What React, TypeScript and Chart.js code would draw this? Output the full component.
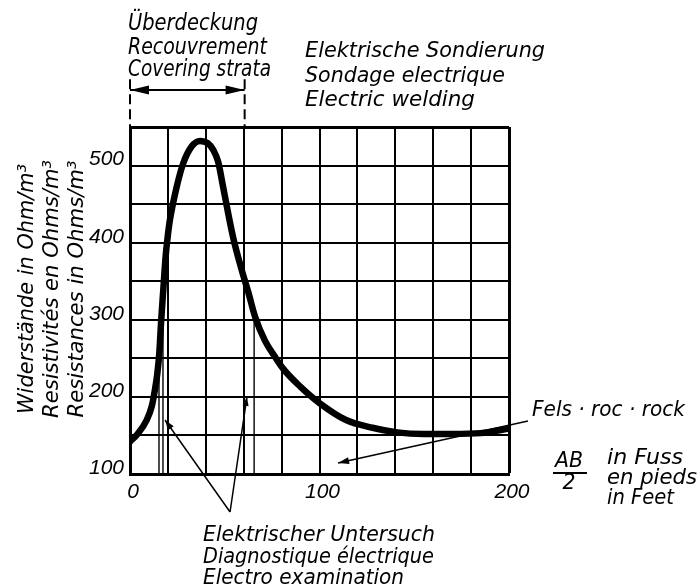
import React, { useEffect, useRef } from 'react';
import { Chart, registerables } from 'chart.js';

Chart.register(...registerables);

// AB/2 distance (feet) and apparent resistance (Ohm/m3)
const distance = [0, 4, 8.8, 11.5, 13.2, 14.4, 15.5, 16.4, 17.6, 18.8, 20, 21.1, 24.6, 28.1, 32.6, 36.9, 41, 44, 46.5, 49, 54.4, 59, 62.4, 66, 71.2, 76.5, 81, 90, 100, 114, 128, 141, 155, 170, 185, 200];
const resistance = [142, 152, 170, 188, 210, 230, 258, 297, 340, 382, 410, 430, 472, 503, 525, 532, 529, 520, 505, 474, 407, 364, 336, 304, 273, 252, 236, 213, 192, 170, 160, 154, 152, 152, 153, 159];

const xTickLabels = [0, 100, 200];
const yTickLabels = [100, 200, 300, 400, 500];

// thin measurement marks (x position, top value)
const markerX = [15.3, 17.4, 65.5];
const markerTop = [252, 335, 306];

// covering strata extent (feet)
const coverRange = [0, 60.5];

const yTitleLines = ['Widerstände in Ohm/m³', 'Resistivités en Ohms/m³', 'Resistances in Ohms/m³'];
const coverLines = ['Überdeckung', 'Recouvrement', 'Covering strata'];
const soundingLines = ['Elektrische Sondierung', 'Sondage electrique', 'Electric welding'];
const examLines = ['Elektrischer Untersuch', 'Diagnostique électrique', 'Electro examination'];
const rockLabel = 'Fels · roc · rock';
const unitLines = ['in Fuss', 'en pieds', 'in Feet'];

const FONT = '"DejaVu Sans", sans-serif';
const TICK_FONT = '"Liberation Sans", Arimo, sans-serif';

function fitText(ctx: CanvasRenderingContext2D, text: string, x: number, y: number, width: number, size: number, align: CanvasTextAlign = 'left', rotate = 0) {
  ctx.save();
  ctx.font = `italic ${size}px ${FONT}`;
  const m = ctx.measureText(text).width || 1;
  ctx.translate(x, y);
  if (rotate) ctx.rotate(rotate);
  ctx.scale(width / m, 1);
  ctx.textBaseline = 'middle';
  ctx.textAlign = align;
  ctx.fillStyle = '#000';
  ctx.fillText(text, 0, 0);
  ctx.restore();
}

function arrowHead(ctx: CanvasRenderingContext2D, fx: number, fy: number, tx: number, ty: number, len: number, half: number) {
  const a = Math.atan2(ty - fy, tx - fx);
  ctx.save();
  ctx.translate(tx, ty);
  ctx.rotate(a);
  ctx.beginPath();
  ctx.moveTo(0, 0);
  ctx.lineTo(-len, -half);
  ctx.lineTo(-len, half);
  ctx.closePath();
  ctx.fillStyle = '#000';
  ctx.fill();
  ctx.restore();
}

const annotations = {
  id: 'annotations',
  afterDraw(chart: any) {
    const ctx: CanvasRenderingContext2D = chart.ctx;
    const xs = chart.scales.x;
    const ys = chart.scales.y;
    const X = (v: number) => xs.getPixelForValue(v);
    const Y = (v: number) => ys.getPixelForValue(v);
    ctx.save();
    ctx.strokeStyle = '#000';
    ctx.lineCap = 'butt';

    // thin measurement marks
    ctx.lineWidth = 1.4;
    markerX.forEach((mx, i) => {
      ctx.beginPath();
      ctx.moveTo(X(mx), Y(markerTop[i]));
      ctx.lineTo(X(mx), Y(100));
      ctx.stroke();
    });

    // covering strata dimension arrow
    const ay = Y(598);
    ctx.lineWidth = 2;
    ctx.setLineDash([10, 5]);
    coverRange.forEach((cx) => {
      ctx.beginPath();
      ctx.moveTo(X(cx), Y(612));
      ctx.lineTo(X(cx), Y(550));
      ctx.stroke();
    });
    ctx.setLineDash([]);
    ctx.beginPath();
    ctx.moveTo(X(coverRange[0]), ay);
    ctx.lineTo(X(coverRange[1]), ay);
    ctx.stroke();
    arrowHead(ctx, X(coverRange[1]), ay, X(coverRange[0]), ay, 19, 4.5);
    arrowHead(ctx, X(coverRange[0]), ay, X(coverRange[1]), ay, 19, 4.5);

    // electric examination leaders
    ctx.lineWidth = 1.5;
    const apx = X(52.8), apy = Y(50.7);
    const lx = X(18.5), ly = Y(170);
    const rx = X(61.7), ry = Y(200);
    ctx.beginPath();
    ctx.moveTo(apx, apy); ctx.lineTo(lx, ly);
    ctx.moveTo(apx, apy); ctx.lineTo(rx, ry);
    ctx.stroke();
    arrowHead(ctx, apx, apy, lx, ly, 10, 3.5);
    arrowHead(ctx, apx, apy, rx, ry, 9, 3);

    // rock leader
    const fx = X(210), fy = Y(168.7);
    const tx = X(109.8), ty = Y(114.3);
    ctx.beginPath();
    ctx.moveTo(fx, fy); ctx.lineTo(tx, ty);
    ctx.stroke();
    arrowHead(ctx, fx, fy, tx, ty, 11, 3.5);

    // y-axis title (three languages)
    const titleX = [27, 52, 77];
    const titleW = [250, 258, 257];
    yTitleLines.forEach((t, i) => fitText(ctx, t, titleX[i], 289, titleW[i], 22, 'center', -Math.PI / 2));

    // texts
    const coverY = [24, 48, 70];
    const coverW = [130, 139, 143];
    coverLines.forEach((t, i) => fitText(ctx, t, 128, coverY[i], coverW[i], 23));

    const soundY = [51, 76, 100];
    const soundW = [240, 200, 170];
    soundingLines.forEach((t, i) => fitText(ctx, t, 305, soundY[i], soundW[i], 22));

    const examY = [535, 557, 578];
    const examW = [232, 231, 201];
    examLines.forEach((t, i) => fitText(ctx, t, 203, examY[i], examW[i], 22));

    fitText(ctx, rockLabel, 532, 410, 153, 22);

    // AB/2
    fitText(ctx, 'AB', 569, 462, 28, 21, 'center');
    ctx.lineWidth = 2;
    ctx.beginPath();
    ctx.moveTo(553, 473); ctx.lineTo(587, 473);
    ctx.stroke();
    fitText(ctx, '2', 569, 484, 13, 21, 'center');

    const unitY = [458, 478, 498];
    const unitW = [76, 90, 67];
    unitLines.forEach((t, i) => fitText(ctx, t, 607, unitY[i], unitW[i], 22));

    ctx.restore();
  },
};

export default function App() {
  const canvasRef = useRef<HTMLCanvasElement | null>(null);

  useEffect(() => {
    document.body.style.margin = '0';
    const canvas = canvasRef.current;
    if (!canvas) return;
    const tickFont = { family: TICK_FONT, size: 21, style: 'italic' as const };
    const chart = new Chart(canvas, {
      type: 'line',
      data: {
        datasets: [
          {
            data: distance.map((d, i) => ({ x: d, y: resistance[i] })),
            borderColor: '#000',
            borderWidth: 6.5,
            pointRadius: 0,
            fill: false,
            cubicInterpolationMode: 'monotone',
            borderCapStyle: 'round',
            borderJoinStyle: 'round',
          },
        ],
      },
      options: {
        responsive: false,
        animation: false,
        events: [],
        layout: { padding: { top: 127, right: 188, left: 0, bottom: 0 } },
        plugins: { legend: { display: false }, tooltip: { enabled: false }, title: { display: false } },
        scales: {
          x: {
            type: 'linear',
            min: 0,
            max: 200,
            afterFit: (s: any) => { s.height = 113; },
            ticks: {
              stepSize: 20,
              autoSkip: false,
              maxRotation: 0,
              color: '#000',
              font: tickFont,
              padding: 6,
              labelOffset: 3,
              callback: (v: any) => (xTickLabels.includes(Number(v)) ? String(v) : ''),
            },
            grid: {
              color: '#000',
              lineWidth: (c: any) => (c.tick && c.tick.value === 200 ? 3 : 2),
              drawTicks: false,
            },
            border: { color: '#000', width: 3 },
          },
          y: {
            type: 'linear',
            min: 100,
            max: 550,
            afterFit: (s: any) => { s.width = 130; },
            ticks: {
              stepSize: 50,
              autoSkip: false,
              color: '#000',
              font: tickFont,
              padding: 6,
              labelOffset: -6,
              callback: (v: any) => (yTickLabels.includes(Number(v)) ? String(v) : ''),
            },
            grid: {
              color: '#000',
              lineWidth: (c: any) => (c.tick && c.tick.value === 550 ? 3 : 2),
              drawTicks: false,
            },
            border: { color: '#000', width: 3 },
          },
        },
      },
      plugins: [annotations],
    });
    return () => chart.destroy();
  }, []);

  return (
    <div style={{ position: 'absolute', left: 0, top: 0, width: 697, height: 587, background: '#fff' }}>
      <canvas ref={canvasRef} width={697} height={587} style={{ display: 'block' }} />
    </div>
  );
}
